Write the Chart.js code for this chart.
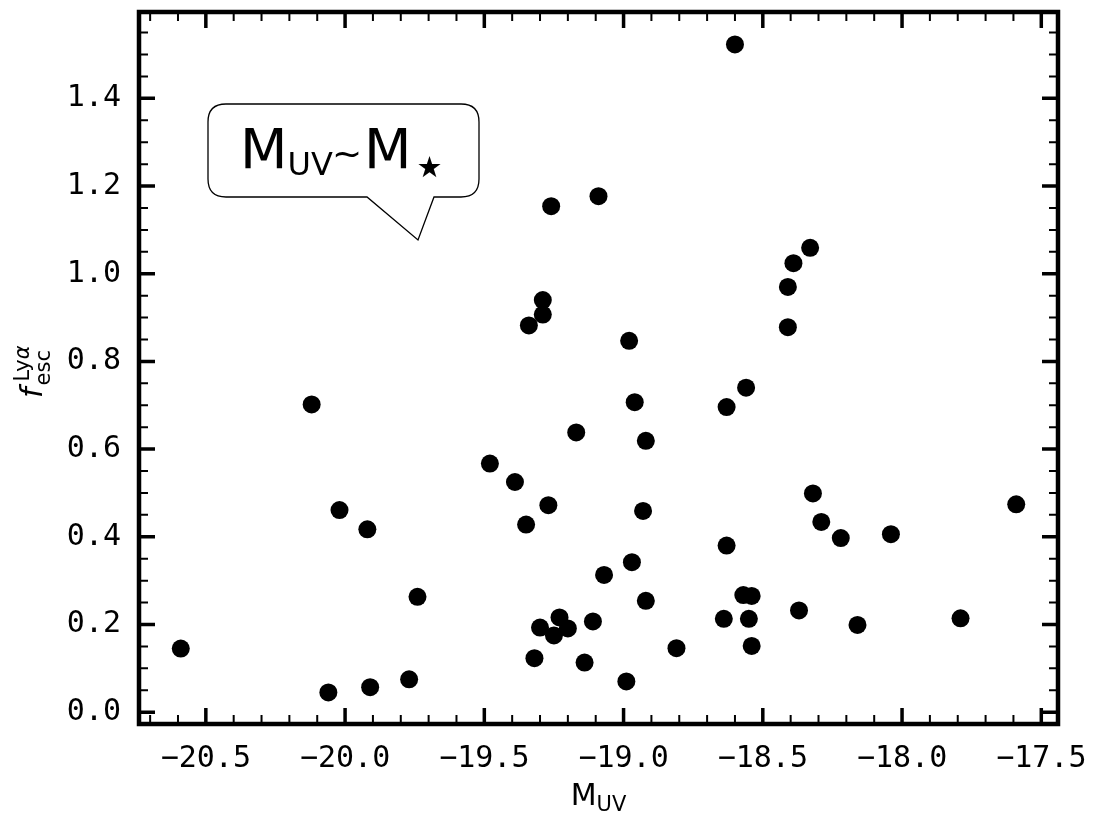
<!DOCTYPE html>
<html>
<head>
<meta charset="utf-8">
<script src="https://cdn.jsdelivr.net/npm/chart.js@4.4.1/dist/chart.umd.min.js"></script>
<style>
body { margin: 0; background: #fff; }
</style>
</head>
<body>
<canvas id="fescChart" width="1094" height="813"></canvas>
<script>

// data
const muv = [
  -20.59, -20.12, -20.02, -19.92, -19.74, -20.06, -19.91, -19.77,
  -18.56, -18.63, -18.96, -19.17, -18.92, -19.48, -19.39, -19.27,
  -19.35, -18.93, -18.63, -18.97, -19.07, -18.92, -18.57, -18.54,
  -18.64, -18.55, -18.54, -19.23, -19.30, -19.20, -19.25, -19.11,
  -19.32, -19.14, -18.99, -18.81, -18.32, -18.29, -18.22, -18.04,
  -17.59, -18.37, -18.16, -17.79, -18.60, -19.26, -19.09, -19.29,
  -19.29, -19.34, -18.98, -18.33, -18.39, -18.41, -18.41
];
const fesc = [
  0.145, 0.702, 0.461, 0.417, 0.263, 0.045, 0.057, 0.075,
  0.740, 0.696, 0.707, 0.638, 0.619, 0.567, 0.525, 0.472,
  0.428, 0.459, 0.380, 0.342, 0.313, 0.254, 0.267, 0.265,
  0.213, 0.213, 0.151, 0.216, 0.193, 0.191, 0.175, 0.207,
  0.123, 0.113, 0.070, 0.146, 0.499, 0.434, 0.397, 0.406,
  0.474, 0.232, 0.199, 0.214, 1.523, 1.154, 1.177, 0.940,
  0.907, 0.882, 0.847, 1.059, 1.024, 0.970, 0.878
];

const xTicks = [-20.5, -20.0, -19.5, -19.0, -18.5, -18.0, -17.5];
const yTicks = [0.0, 0.2, 0.4, 0.6, 0.8, 1.0, 1.2, 1.4];
const xMinor = [-20.7, -20.6, -20.4, -20.3, -20.2, -20.1, -19.9, -19.8, -19.7, -19.6,
  -19.4, -19.3, -19.2, -19.1, -18.9, -18.8, -18.7, -18.6, -18.4, -18.3, -18.2, -18.1,
  -17.9, -17.8, -17.7, -17.6];
const yMinor = [0.05, 0.1, 0.15, 0.25, 0.3, 0.35, 0.45, 0.5, 0.55, 0.65, 0.7, 0.75,
  0.85, 0.9, 0.95, 1.05, 1.1, 1.15, 1.25, 1.3, 1.35, 1.45, 1.5, 1.55];

const points = muv.map((v, i) => ({ x: v, y: fesc[i] }));

const MONO = "'DejaVu Sans Mono', monospace";
const SANS = "'DejaVu Sans', sans-serif";

// frame, inward ticks on all sides, labels, speech bubble
const decorations = {
  id: "decorations",
  afterDraw(chart) {
    const ctx = chart.ctx;
    const a = chart.chartArea;
    const xs = chart.scales.x;
    const ys = chart.scales.y;

    ctx.save();
    ctx.strokeStyle = "#000";
    ctx.lineCap = "butt";

    function tickX(v, len, w) {
      const px = xs.getPixelForValue(v);
      ctx.lineWidth = w;
      ctx.beginPath();
      ctx.moveTo(px, a.bottom); ctx.lineTo(px, a.bottom - len);
      ctx.moveTo(px, a.top); ctx.lineTo(px, a.top + len);
      ctx.stroke();
    }
    function tickY(v, len, w) {
      const py = ys.getPixelForValue(v);
      ctx.lineWidth = w;
      ctx.beginPath();
      ctx.moveTo(a.left, py); ctx.lineTo(a.left + len, py);
      ctx.moveTo(a.right, py); ctx.lineTo(a.right - len, py);
      ctx.stroke();
    }
    xMinor.forEach(v => tickX(v, 9, 2));
    yMinor.forEach(v => tickY(v, 9, 2));
    xTicks.forEach(v => tickX(v, 16, 3.5));
    yTicks.forEach(v => tickY(v, 16, 3.5));

    ctx.lineWidth = 4.5;
    ctx.strokeRect(a.left, a.top, a.right - a.left, a.bottom - a.top);

    // x label
    ctx.fillStyle = "#000";
    ctx.textBaseline = "alphabetic";
    ctx.textAlign = "left";
    ctx.font = "30px " + SANS;
    const mW = ctx.measureText("M").width;
    ctx.font = "21px " + SANS;
    const uvW = ctx.measureText("UV").width;
    const cx = (a.left + a.right) / 2;
    let lx = cx - (mW + uvW) / 2;
    ctx.font = "30px " + SANS;
    ctx.fillText("M", lx, 805);
    ctx.font = "21px " + SANS;
    ctx.fillText("UV", lx + mW, 811);

    // y label, rotated
    ctx.save();
    ctx.translate(42, 398);
    ctx.rotate(-Math.PI / 2);
    ctx.font = "italic 30px " + SANS;
    ctx.fillText("f", 0, 0);
    const fW = ctx.measureText("f").width;
    ctx.font = "21px " + SANS;
    ctx.fillText("Ly", fW + 6, -13);
    const lyW = ctx.measureText("Ly").width;
    ctx.font = "italic 21px " + SANS;
    ctx.fillText("\u03b1", fW + 6 + lyW, -13);
    ctx.font = "21px " + SANS;
    ctx.fillText("esc", fW + 2, 8);
    ctx.restore();

    // speech bubble
    const bx0 = 208, bx1 = 479, by0 = 104, by1 = 197, r = 18;
    ctx.beginPath();
    ctx.moveTo(bx0 + r, by0);
    ctx.lineTo(bx1 - r, by0);
    ctx.quadraticCurveTo(bx1, by0, bx1, by0 + r);
    ctx.lineTo(bx1, by1 - r);
    ctx.quadraticCurveTo(bx1, by1, bx1 - r, by1);
    ctx.lineTo(434, by1);
    ctx.lineTo(418, 240);
    ctx.lineTo(367, by1);
    ctx.lineTo(bx0 + r, by1);
    ctx.quadraticCurveTo(bx0, by1, bx0, by1 - r);
    ctx.lineTo(bx0, by0 + r);
    ctx.quadraticCurveTo(bx0, by0, bx0 + r, by0);
    ctx.closePath();
    ctx.fillStyle = "#fff";
    ctx.fill();
    ctx.lineWidth = 1.3;
    ctx.stroke();

    ctx.fillStyle = "#000";
    ctx.font = "55px " + SANS;
    ctx.fillText("M", 240, 168);
    const bigM = ctx.measureText("M").width;
    ctx.font = "32px " + SANS;
    ctx.fillText("UV", 240 + bigM, 175);
    ctx.font = "36px " + SANS;
    ctx.fillText("~", 332, 166);
    ctx.font = "55px " + SANS;
    ctx.fillText("M", 364, 168);
    ctx.font = "29px " + SANS;
    ctx.fillText("\u2605", 364 + bigM + 5, 177);

    ctx.restore();
  }
};

new Chart(document.getElementById("fescChart"), {
  type: "scatter",
  data: {
    datasets: [{
      data: points,
      backgroundColor: "#000",
      borderColor: "#000",
      pointRadius: 9,
      pointHoverRadius: 9,
      borderWidth: 0
    }]
  },
  options: {
    responsive: false,
    animation: false,
    events: [],
    layout: { padding: { top: 12, right: 36, left: 0, bottom: 0 } },
    plugins: {
      legend: { display: false },
      tooltip: { enabled: false }
    },
    scales: {
      x: {
        type: "linear",
        min: -20.74,
        max: -17.44,
        border: { display: false },
        grid: { display: false, drawTicks: false },
        afterBuildTicks: s => { s.ticks = xTicks.map(v => ({ value: v })); },
        afterFit: s => {
          s.height = 89;
          s.paddingLeft = 0;
          s.paddingRight = 0;
        },
        ticks: {
          autoSkip: false,
          maxRotation: 0,
          padding: 17,
          color: "#000",
          font: { family: MONO, size: 30 },
          callback: v => (v < 0 ? "\u2212" : "") + Math.abs(v).toFixed(1)
        }
      },
      y: {
        type: "linear",
        min: -0.027,
        max: 1.597,
        border: { display: false },
        grid: { display: false, drawTicks: false },
        afterBuildTicks: s => { s.ticks = yTicks.map(v => ({ value: v })); },
        afterFit: s => {
          s.width = 139;
          s.paddingTop = 0;
          s.paddingBottom = 0;
        },
        ticks: {
          autoSkip: false,
          padding: 18,
          color: "#000",
          font: { family: MONO, size: 30 },
          callback: v => v.toFixed(1)
        }
      }
    }
  },
  plugins: [decorations]
});
</script>
</body>
</html>
